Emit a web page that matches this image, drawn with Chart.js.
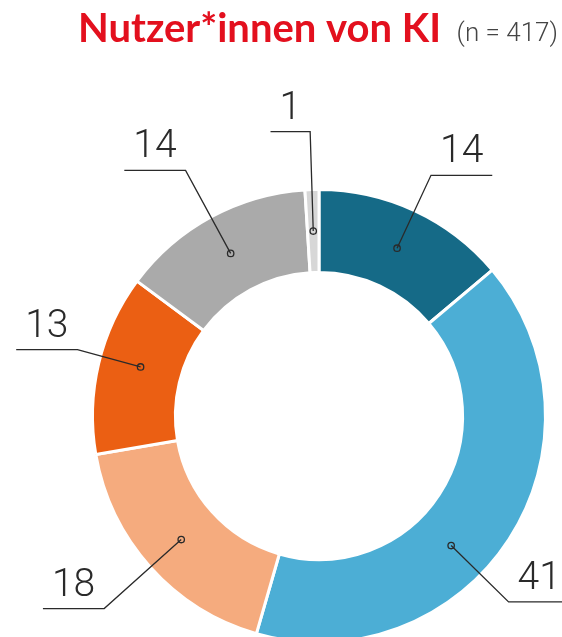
<!DOCTYPE html>
<html>
<head>
<meta charset="utf-8">
<script src="https://cdn.jsdelivr.net/npm/chart.js@4"></script>
<style>
    html, body { margin: 0; padding: 0; background: #fff; overflow: hidden; }
    #wrap { width: 562px; height: 660px; }
</style>
</head>
<body>
<div id="wrap"><canvas id="kiChart" width="562" height="660"></canvas></div>
<script>
// ================= DATA =================
const categories = ["Segment 1", "Segment 2", "Segment 3", "Segment 4", "Segment 5", "Segment 6"];
const shares = [14, 41, 18, 13, 14, 1];
const sliceColors = ["#156a87", "#4caed5", "#f5ab7e", "#eb5f13", "#aaaaaa", "#d7d7d7"];
const titleText = "Nutzer*innen von KI";
const sampleText = "(n = 417)";

// ================= TITLE PLUGIN =================
const titlePlugin = {
    id: "titlePlugin",
    afterDraw(chart) {
        const ctx = chart.ctx;
        ctx.save();
        ctx.textBaseline = "alphabetic";
        ctx.textAlign = "left";
        ctx.fillStyle = "#e3101e";
        ctx.font = "bold 40px Lato, 'Open Sans', sans-serif";
        ctx.fillText(titleText, 78, 42);
        ctx.fillStyle = "#444";
        ctx.font = "300 26px Roboto, 'Open Sans', sans-serif";
        ctx.textAlign = "right";
        ctx.fillText(sampleText, 558, 41);
        ctx.restore();
    }
};

// ================= LEADER LABELS =================
const leaderPlugin = {
    id: "leaderPlugin",
    afterDatasetsDraw(chart, args, opts) {
        const ctx = chart.ctx;
        const arcs = chart.getDatasetMeta(0).data;
        ctx.save();
        ctx.strokeStyle = "#2a2a2a";
        ctx.fillStyle = "#2a2a2a";
        ctx.lineWidth = 1.3;
        ctx.font = "300 39px Roboto, 'Open Sans', sans-serif";
        ctx.textAlign = "center";
        ctx.textBaseline = "alphabetic";

        arcs.forEach((arc, i) => {
            const p = arc.getProps(["x", "y", "startAngle", "endAngle", "innerRadius", "outerRadius"], true);
            const ang = (p.startAngle + p.endAngle) / 2 + (opts.shift[i] || 0);
            const rMid = (p.innerRadius + p.outerRadius) / 2;
            const rOut = p.outerRadius + opts.elbow[i];
            const cx = p.x + Math.cos(ang) * rMid;
            const cy = p.y + Math.sin(ang) * rMid;
            const ex = p.x + Math.cos(ang) * rOut;
            const ey = p.y + Math.sin(ang) * rOut;
            const txt = String(shares[i]);
            const len = ctx.measureText(txt).width + 18;
            const dir = Math.cos(ang) >= 0 ? 1 : -1;
            const hx = ex + dir * len;

            ctx.beginPath();
            ctx.moveTo(cx, cy);
            ctx.lineTo(ex, ey);
            ctx.lineTo(hx, ey);
            ctx.stroke();

            ctx.beginPath();
            ctx.arc(cx, cy, 3.2, 0, Math.PI * 2);
            ctx.stroke();

            ctx.fillText(txt, (ex + hx) / 2, ey - 13);
        });
        ctx.restore();
    }
};

// ================= CHART =================
document.addEventListener("DOMContentLoaded", () => {
    const ctx = document.getElementById("kiChart").getContext("2d");
    new Chart(ctx, {
        type: "doughnut",
        data: {
            labels: categories,
            datasets: [
                {
                    data: shares,
                    backgroundColor: sliceColors,
                    borderColor: "#ffffff",
                    borderWidth: 3
                }
            ]
        },
        options: {
            responsive: false,
            animation: false,
            cutout: "63.4%",
            layout: { padding: { left: 91, right: 15, top: 188, bottom: 16 } },
            plugins: {
                legend: { display: false },
                tooltip: { enabled: false },
                leaderPlugin: {
                    shift: [0, 0.2, 0, 0.035, 0, 0],
                    elbow: [39, 39, 62, 24, 53, 58]
                }
            }
        },
        plugins: [titlePlugin, leaderPlugin]
    });
});
</script>
</body>
</html>
